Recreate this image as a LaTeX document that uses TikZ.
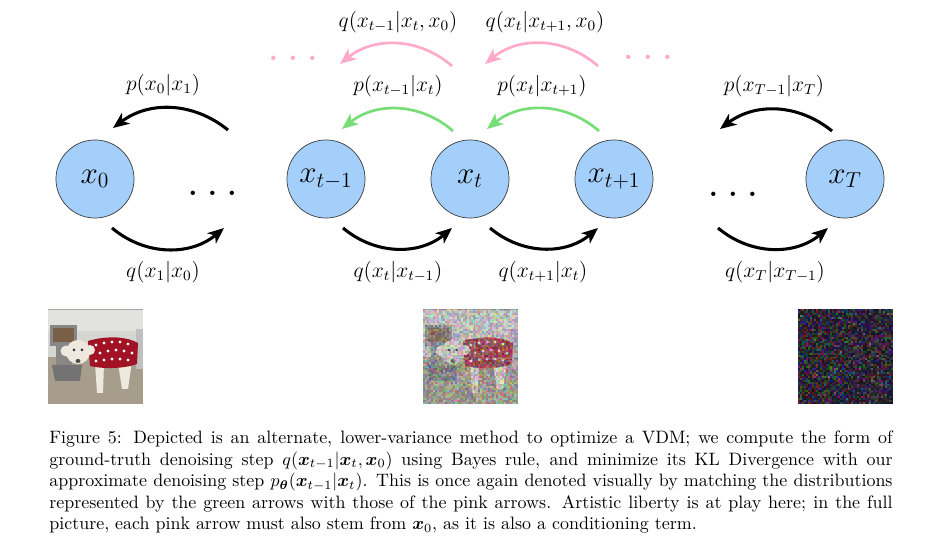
\documentclass[tikz,border=0pt]{standalone}
\usepackage{amsmath,bm}
\usetikzlibrary{arrows.meta}
\definecolor{circblue}{RGB}{163,207,250}
\definecolor{arrgreen}{RGB}{119,221,119}
\definecolor{arrpink}{RGB}{255,170,200}
\definecolor{wallc}{RGB}{226,226,222}
\definecolor{wallc2}{RGB}{214,214,210}
\definecolor{floorc}{RGB}{166,157,140}
\definecolor{dispc}{RGB}{135,135,135}
\definecolor{foodc}{RGB}{120,95,70}
\definecolor{sweatc}{RGB}{160,18,36}
\definecolor{dogc}{RGB}{238,232,222}
\newcommand{\dogscene}{%
  \fill[wallc] (0,0) rectangle (95,48);
  \fill[wallc2] (0,22) rectangle (95,48);
  \fill[black!35] (0,0) rectangle (95,1.2);
  \fill[floorc] (0,48) rectangle (95,95);
  \fill[black!25] (88,20) rectangle (95,60);
  % dispenser
  \fill[dispc] (2,16) rectangle (29,37);
  \fill[foodc] (5,19) rectangle (26,33);
  \fill[dispc] (8,37) rectangle (24,58);
  \fill[dispc!85!black] (4,56) -- (34,56) -- (32,72) -- (7,72) -- cycle;
  % dog
  \fill[dogc] (47,54) -- (56,54) -- (55,84) -- (49,84) -- cycle;
  \fill[dogc] (70,54) -- (84,52) -- (80,80) -- (74,80) -- cycle;
  \fill[sweatc] (40,32) .. controls (60,26) and (80,28) .. (90,34) -- (89,55) .. controls (75,60) and (55,60) .. (42,57) -- cycle;
  \foreach \dx/\dy in {48/36,56/34,64/33,72/33,80/35,52/44,60/42,68/41,76/42,84/44,48/52,56/51,64/50,72/50,80/51}
    \fill[white!90!pink] (\dx,\dy) circle (1.6);
  \fill[dogc] (30,43) circle (12);
  \fill[dogc] (18,42) circle (5.5);
  \fill[dogc] (42,41) circle (5);
  \fill[black!80] (26,41) circle (1.5);
  \fill[black!80] (34,41) circle (1.5);
  \fill[black!70] (30,52) ellipse (2.5 and 2);
}
\begin{document}
\begin{tikzpicture}[x=0.5571pt,y=-0.5571pt,
  state/.style={circle,draw=black!75,line width=0.4pt,fill=circblue,minimum size=43.5pt,inner sep=0pt,font=\LARGE},
  lbl/.style={font=\large,inner sep=0pt},
  dotsn/.style={font=\fontsize{24}{28}\selectfont,inner sep=0pt,anchor=base},
  blackarr/.style={line width=1.7pt,-{Stealth[length=9pt,width=7.5pt,inset=2.5pt]}},
  greenarr/.style={arrgreen,line width=1.5pt,-{Stealth[length=9pt,width=7.5pt,inset=2.5pt]}},
  pinkarr/.style={arrpink,line width=1.5pt,-{Stealth[length=9pt,width=7.5pt,inset=2.5pt]}}]
\useasboundingbox (0,0) rectangle (929,547);
% states
\node[state] (x0) at (95,179) {$x_0$};
\node[state] (xtm) at (326,179) {$x_{t-1}$};
\node[state] (xt) at (470,179) {$x_t$};
\node[state] (xtp) at (614,179) {$x_{t+1}$};
\node[state] (xT) at (845,179) {$x_T$};
% dots
\node[dotsn] (dl) at (212.5,195.5) {$\ldots$};
\node[dotsn] (dr) at (733,196.5) {$\ldots$};
\node[dotsn,text=arrpink] (pl) at (293,60.5) {$\ldots$};
\node[dotsn,text=arrpink] (pr) at (648,60) {$\ldots$};
% arrow end coordinates
\coordinate (b1s) at (112,228); \coordinate (b1e) at (224,228);
\coordinate (b2s) at (343,228); \coordinate (b2e) at (452,228);
\coordinate (b3s) at (490,228); \coordinate (b3e) at (598,228);
\coordinate (b4s) at (718,228); \coordinate (b4e) at (828,228);
\coordinate (t1s) at (228,130); \coordinate (t1e) at (113,128);
\coordinate (t4s) at (832,131); \coordinate (t4e) at (720,129);
\coordinate (g1s) at (453,131); \coordinate (g1e) at (342,129);
\coordinate (g2s) at (599,131); \coordinate (g2e) at (487,129);
\coordinate (p1s) at (452,66); \coordinate (p1e) at (340,64);
\coordinate (p2s) at (598,66); \coordinate (p2e) at (485,64);
% arrows
\draw[blackarr] (b1s) to[bend right=40] (b1e);
\draw[blackarr] (b2s) to[bend right=40] (b2e);
\draw[blackarr] (b3s) to[bend right=40] (b3e);
\draw[blackarr] (b4s) to[bend right=40] (b4e);
\draw[blackarr] (t1s) to[bend right=38] (t1e);
\draw[blackarr] (t4s) to[bend right=38] (t4e);
\draw[greenarr] (g1s) to[bend right=40] (g1e);
\draw[greenarr] (g2s) to[bend right=40] (g2e);
\draw[pinkarr] (p1s) to[bend right=40] (p1e);
\draw[pinkarr] (p2s) to[bend right=40] (p2e);
% labels
\node[lbl] (lq1) at (163,272) {$q(x_1|x_0)$};
\node[lbl] (lq2) at (398,272) {$q(x_t|x_{t-1})$};
\node[lbl] (lq3) at (543,272) {$q(x_{t+1}|x_t)$};
\node[lbl] (lq4) at (775,272) {$q(x_T|x_{T-1})$};
\node[lbl] (lp1) at (163,85) {$p(x_0|x_1)$};
\node[lbl] (lp2) at (398,86) {$p(x_{t-1}|x_t)$};
\node[lbl] (lp3) at (542,86) {$p(x_t|x_{t+1})$};
\node[lbl] (lp4) at (774,86) {$p(x_{T-1}|x_T)$};
\node[lbl] (lk1) at (398,22) {$q(x_{t-1}|x_t,x_0)$};
\node[lbl] (lk2) at (545,22) {$q(x_t|x_{t+1},x_0)$};
% photos
\pgfmathsetseed{7}
\begin{scope}[shift={(48,309)}]
  \clip (0,0) rectangle (95,95);
  \dogscene
\end{scope}
\begin{scope}[shift={(423,309)}]
  \clip (0,0) rectangle (95,95);
  \dogscene
  \foreach \i in {0,...,47}{\foreach \j in {0,...,47}{
    \pgfmathsetmacro\ra{0.2+0.75*rnd}\pgfmathsetmacro\rb{0.2+0.75*rnd}\pgfmathsetmacro\rc{0.2+0.75*rnd}
    \definecolor{nzc}{rgb}{\ra,\rb,\rc}
    \fill[nzc,fill opacity=0.45] (\i*1.98,\j*1.98) rectangle ++(2,2);
  }}
\end{scope}
\begin{scope}[shift={(798,309)}]
  \clip (0,0) rectangle (95,95);
  \foreach \i in {0,...,47}{\foreach \j in {0,...,47}{
    \pgfmathsetmacro\ra{0.06+0.5*rnd*rnd}\pgfmathsetmacro\rb{0.05+0.45*rnd*rnd}\pgfmathsetmacro\rc{0.08+0.55*rnd*rnd}
    \definecolor{nzc}{rgb}{\ra,\rb,\rc}
    \fill[nzc] (\i*1.98,\j*1.98) rectangle ++(2,2);
  }}
\end{scope}
% caption
\node[anchor=north west,inner sep=0pt,text width=469.75pt,align=justify,font=\normalsize] (cap) at (49,430.5)
{Figure 5: Depicted is an alternate, lower-variance method to optimize a VDM; we compute the form of ground-truth denoising step $q(\bm{x}_{t-1}|\bm{x}_t,\bm{x}_0)$ using Bayes rule, and minimize its KL Divergence with our approximate denoising step $p_{\bm{\theta}}(\bm{x}_{t-1}|\bm{x}_t)$. This is once again denoted visually by matching the distributions represented by the green arrows with those of the pink arrows. Artistic liberty is at play here; in the full picture, each pink arrow must also stem from $\bm{x}_0$, as it is also a conditioning term.};
\end{tikzpicture}
\end{document}
